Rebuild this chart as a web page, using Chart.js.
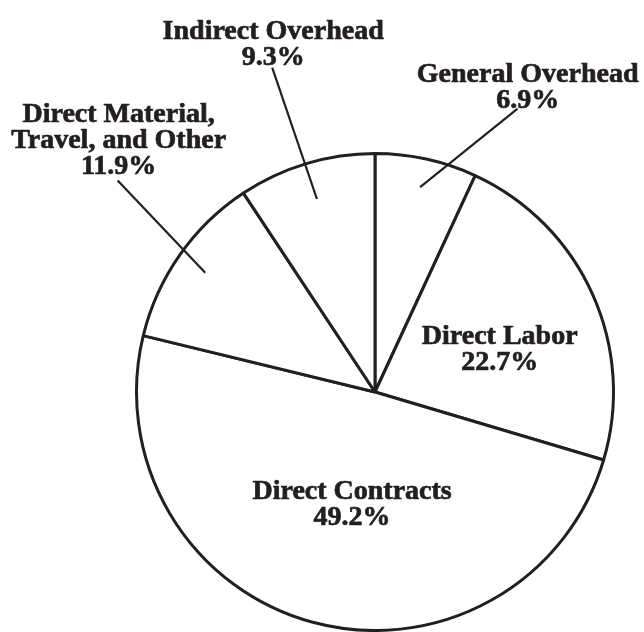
<!DOCTYPE html>
<html>
<head>
<meta charset="utf-8">
<script src="https://cdn.jsdelivr.net/npm/chart.js@4"></script>
<style>
  html, body { margin: 0; padding: 0; background: #ffffff; }
  #wrap { width: 644px; height: 632px; position: relative; }
</style>
</head>
<body>
<div id="wrap"><canvas id="costChart"></canvas></div>
<script>
// Slices, clockwise from 12 o'clock
const categories = [
  "General Overhead",
  "Direct Labor",
  "Direct Contracts",
  "Direct Material, Travel, and Other",
  "Indirect Overhead",
];
const shares = [6.9, 22.7, 49.2, 11.9, 9.3];
const labelLines = [
  ["General Overhead"],
  ["Direct Labor"],
  ["Direct Contracts"],
  ["Direct Material,", "Travel, and Other"],
  ["Indirect Overhead"],
];

// Label placement, in units of the pie radius relative to its centre.
// lead: start of leader line (radius units) and how far along the slice's mid angle it ends
const labelPlace = [
  { dx: 0.640, dy: -1.282, lead: { sx: 0.598, sy: -1.188, f: 0.88 } },
  { dx: 0.523, dy: -0.186 },
  { dx: -0.096, dy: 0.467 },
  { dx: -1.075, dy: -1.061, lead: { sx: -1.079, sy: -0.887, f: 0.87 } },
  { dx: -0.427, dy: -1.462, lead: { sx: -0.431, sy: -1.36, f: 0.845 } },
];

const ink = "#231f20";
const labelFont = "bold 28px 'Liberation Serif', 'Times New Roman', serif";
const lineGap = 26;
const capHalf = 9;

const sliceLabels = {
  id: "sliceLabels",
  afterDatasetsDraw(chart) {
    const ctx = chart.ctx;
    const arcs = chart.getDatasetMeta(0).data;
    ctx.save();
    ctx.fillStyle = ink;
    ctx.strokeStyle = ink;
    ctx.font = labelFont;
    ctx.textAlign = "center";
    ctx.textBaseline = "alphabetic";
    ctx.lineJoin = "round";
    arcs.forEach((arc, i) => {
      const { x, y, startAngle, endAngle, outerRadius } = arc.getProps(
        ["x", "y", "startAngle", "endAngle", "outerRadius"], true);
      const R = outerRadius;
      const p = labelPlace[i];
      const lines = labelLines[i].concat([shares[i].toFixed(1) + "%"]);
      const ax = x + p.dx * R;
      const ay = y + p.dy * R;
      const first = ay - ((lines.length - 1) * lineGap) / 2 + capHalf;
      ctx.lineWidth = 0.7; // a touch heavier, like the original's schoolbook bold
      lines.forEach((t, k) => {
        ctx.fillText(t, ax, first + k * lineGap);
        ctx.strokeText(t, ax, first + k * lineGap);
      });
      if (p.lead) {
        const mid = (startAngle + endAngle) / 2;
        ctx.lineWidth = 2.2;
        ctx.beginPath();
        ctx.moveTo(x + p.lead.sx * R, y + p.lead.sy * R);
        ctx.lineTo(x + Math.cos(mid) * R * p.lead.f, y + Math.sin(mid) * R * p.lead.f);
        ctx.stroke();
      }
    });
    ctx.restore();
  },
};

new Chart(document.getElementById("costChart").getContext("2d"), {
  type: "pie",
  data: {
    labels: categories,
    datasets: [
      {
        data: shares,
        backgroundColor: "#ffffff",
        borderColor: ink,
        borderWidth: 3,
        hoverOffset: 0,
      },
    ],
  },
  options: {
    responsive: true,
    maintainAspectRatio: false,
    animation: false,
    events: [],
    layout: { padding: { left: 134, right: 28, top: 152, bottom: 0 } },
    plugins: {
      legend: { display: false },
      tooltip: { enabled: false },
      title: { display: false },
    },
  },
  plugins: [sliceLabels],
});
</script>
</body>
</html>
